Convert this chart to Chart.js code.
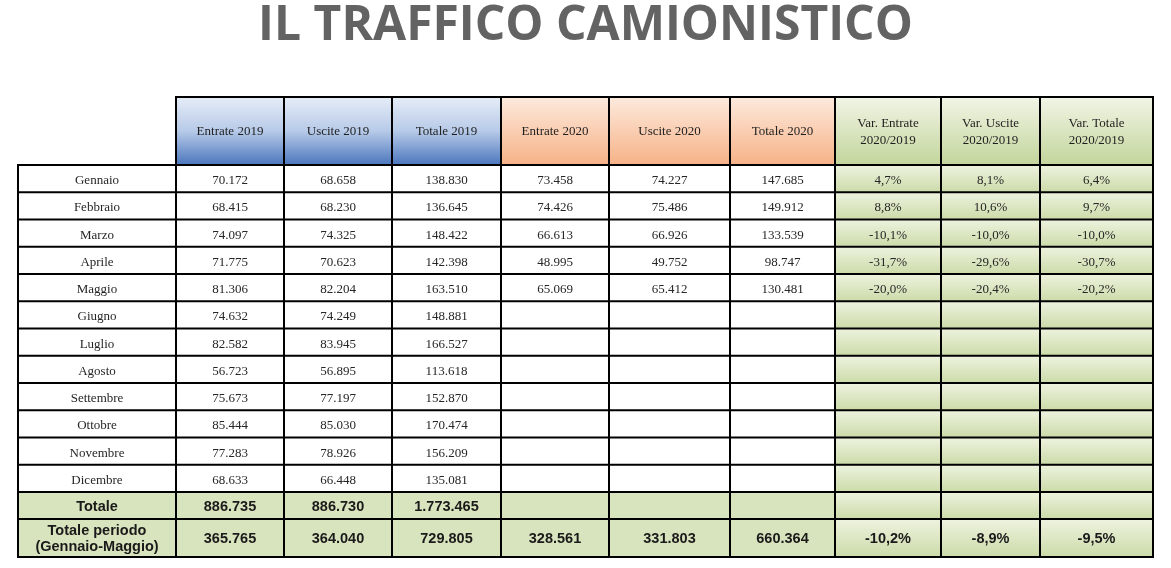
<!DOCTYPE html>
<html lang="it">
<head>
<meta charset="UTF-8">
<title>Il traffico camionistico</title>
<script src="https://cdn.jsdelivr.net/npm/chart.js"></script>
<style>
  body { margin: 0; background: #fff; }
  #wrap { width: 1171px; height: 568px; }
</style>
</head>
<body>
<div id="wrap"><canvas id="myChart"></canvas></div>
<script>
// ---- data ----
const titleText = 'IL TRAFFICO CAMIONISTICO';
const headers = ['Entrate 2019', 'Uscite 2019', 'Totale 2019', 'Entrate 2020', 'Uscite 2020', 'Totale 2020',
  ['Var. Entrate', '2020/2019'], ['Var. Uscite', '2020/2019'], ['Var. Totale', '2020/2019']];
const months = ['Gennaio', 'Febbraio', 'Marzo', 'Aprile', 'Maggio', 'Giugno', 'Luglio', 'Agosto',
  'Settembre', 'Ottobre', 'Novembre', 'Dicembre'];
const entrate2019 = [70172, 68415, 74097, 71775, 81306, 74632, 82582, 56723, 75673, 85444, 77283, 68633];
const uscite2019 = [68658, 68230, 74325, 70623, 82204, 74249, 83945, 56895, 77197, 85030, 78926, 66448];
const totale2019 = [138830, 136645, 148422, 142398, 163510, 148881, 166527, 113618, 152870, 170474, 156209, 135081];
const entrate2020 = [73458, 74426, 66613, 48995, 65069];
const uscite2020 = [74227, 75486, 66926, 49752, 65412];
const totale2020 = [147685, 149912, 133539, 98747, 130481];
const varEntrate = [4.7, 8.8, -10.1, -31.7, -20.0];
const varUscite = [8.1, 10.6, -10.0, -29.6, -20.4];
const varTotale = [6.4, 9.7, -10.0, -30.7, -20.2];
const totaleLabel = 'Totale';
const totaleAnno = [886735, 886730, 1773465];
const periodoLabel = ['Totale periodo', '(Gennaio-Maggio)'];
const totalePeriodo = [365765, 364040, 729805, 328561, 331803, 660364];
const varPeriodo = [-10.2, -8.9, -9.5];

// ---- layout (relative widths / heights) ----
const COL_W = [158, 108, 108, 109, 108, 121, 105, 106, 99, 113];
const ROW_H = [68].concat(Array(12).fill(27.25), [27, 38]);

const edges = arr => arr.reduce((acc, v) => { acc.push(acc[acc.length - 1] + v); return acc; }, [0]);
const sum = arr => arr.reduce((a, b) => a + b, 0);

function fmtNum(v) {
  if (v === undefined || v === null) return '';
  return String(v).replace(/\B(?=(\d{3})+(?!\d))/g, '.');
}
function fmtPct(v) {
  if (v === undefined || v === null) return '';
  return v.toFixed(1).replace('.', ',') + '%';
}

// build the table rows
const rows = [];
months.forEach((m, i) => {
  rows.push({ kind: 'month', cells: [m, fmtNum(entrate2019[i]), fmtNum(uscite2019[i]), fmtNum(totale2019[i]),
    fmtNum(entrate2020[i]), fmtNum(uscite2020[i]), fmtNum(totale2020[i]),
    fmtPct(varEntrate[i]), fmtPct(varUscite[i]), fmtPct(varTotale[i])] });
});
rows.push({ kind: 'total', cells: [totaleLabel].concat(totaleAnno.map(fmtNum), ['', '', '', '', '', '']) });
rows.push({ kind: 'total', cells: [periodoLabel].concat(totalePeriodo.map(fmtNum), varPeriodo.map(fmtPct)) });

const SERIF = '13px "Liberation Serif", "Times New Roman", serif';
const BOLD = 'bold 14.5px "Liberation Sans", Arial, sans-serif';

function grad(ctx, y0, y1, stops) {
  const g = ctx.createLinearGradient(0, y0, 0, y1);
  stops.forEach(([p, c]) => g.addColorStop(p, c));
  return g;
}
const BLUE = [[0, '#e6edf8'], [0.5, '#b7cae8'], [1, '#4b76bd']];
const ORANGE = [[0, '#fdeadd'], [1, '#f6b287']];
const GREEN_HEAD = [[0, '#f1f5e6'], [1, '#c3d59b']];
const GREEN_CELL = [[0, '#edf3df'], [1, '#ccdba9']];
const GREEN_FLAT = '#d8e4bd';

function drawText(ctx, text, cx, cy, font, lh) {
  ctx.font = font;
  const lines = Array.isArray(text) ? text : [text];
  const start = cy - (lines.length - 1) * lh / 2;
  lines.forEach((t, k) => ctx.fillText(t, cx, start + k * lh));
}

const tablePlugin = {
  id: 'tableCells',
  beforeDatasetsDraw(chart) {
    const { ctx, scales: { x, y } } = chart;
    const xe = edges(COL_W), ye = edges(ROW_H);
    const px = i => x.getPixelForValue(xe[i]);
    const py = i => y.getPixelForValue(ye[i]);
    ctx.save();
    ctx.textAlign = 'center';
    ctx.textBaseline = 'middle';

    // header row
    for (let c = 1; c < COL_W.length; c++) {
      const x0 = px(c), x1 = px(c + 1), y0 = py(0), y1 = py(1);
      ctx.fillStyle = grad(ctx, y0, y1, c <= 3 ? BLUE : c <= 6 ? ORANGE : GREEN_HEAD);
      ctx.fillRect(x0, y0, x1 - x0, y1 - y0);
      ctx.fillStyle = '#1e1e1e';
      drawText(ctx, headers[c - 1], (x0 + x1) / 2, (y0 + y1) / 2 + 1, SERIF, 17);
    }

    // body rows
    rows.forEach((row, r) => {
      const y0 = py(r + 1), y1 = py(r + 2);
      row.cells.forEach((val, c) => {
        const x0 = px(c), x1 = px(c + 1);
        if (c >= 7) ctx.fillStyle = grad(ctx, y0, y1, GREEN_CELL);
        else ctx.fillStyle = row.kind === 'total' ? GREEN_FLAT : '#ffffff';
        ctx.fillRect(x0, y0, x1 - x0, y1 - y0);
        ctx.fillStyle = row.kind === 'total' ? '#1a1a1a' : '#262626';
        drawText(ctx, val, (x0 + x1) / 2, (y0 + y1) / 2 + (row.kind === 'total' ? 1 : 2),
          row.kind === 'total' ? BOLD : SERIF, 16);
      });
    });

    // grid lines
    ctx.strokeStyle = '#000';
    ctx.lineWidth = 2;
    ctx.beginPath();
    for (let c = 1; c < COL_W.length; c++) {
      ctx.rect(px(c), py(0), px(c + 1) - px(c), py(1) - py(0));
    }
    for (let r = 1; r < ROW_H.length; r++) {
      for (let c = 0; c < COL_W.length; c++) {
        ctx.rect(px(c), py(r), px(c + 1) - px(c), py(r + 1) - py(r));
      }
    }
    ctx.stroke();
    ctx.restore();
  }
};

new Chart(document.getElementById('myChart').getContext('2d'), {
  type: 'scatter',
  data: { datasets: [] },
  options: {
    responsive: true,
    maintainAspectRatio: false,
    animation: false,
    layout: { padding: { top: 0, left: 18, right: 18, bottom: 11 } },
    plugins: {
      legend: { display: false },
      tooltip: { enabled: false },
      title: {
        display: true,
        text: titleText,
        color: '#636363',
        font: { family: '"Open Sans", sans-serif', size: 48, weight: 'bold', lineHeight: 1.1 },
        padding: { top: 0, bottom: 44.2 }
      }
    },
    scales: {
      x: { type: 'linear', min: 0, max: sum(COL_W), display: false },
      y: { type: 'linear', min: 0, max: sum(ROW_H), reverse: true, display: false }
    }
  },
  plugins: [tablePlugin]
});
</script>
</body>
</html>
